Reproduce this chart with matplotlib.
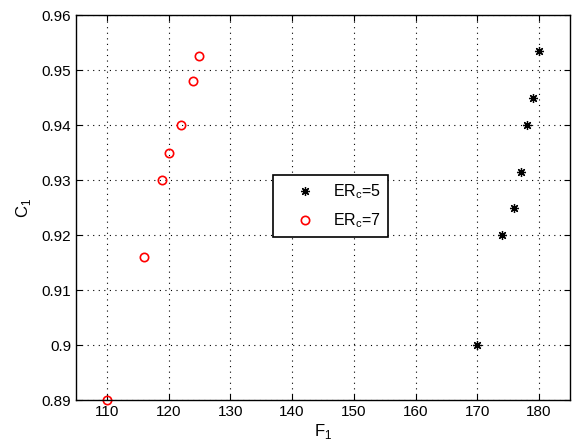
import matplotlib
matplotlib.use("Agg")
import matplotlib.pyplot as plt

plt.rcParams['font.family'] = ['Liberation Sans', 'DejaVu Sans']

f1_er5 = [170, 174, 176, 177, 178, 179, 180]
c1_er5 = [0.900, 0.920, 0.925, 0.9315, 0.940, 0.945, 0.9535]
f1_er7 = [110, 116, 119, 120, 122, 124, 125]
c1_er7 = [0.890, 0.916, 0.930, 0.935, 0.940, 0.948, 0.9525]
xticks = [110, 120, 130, 140, 150, 160, 170, 180]
yticks = [0.89, 0.90, 0.91, 0.92, 0.93, 0.94, 0.95, 0.96]
ytick_labels = ['0.89', '0.9', '0.91', '0.92', '0.93', '0.94', '0.95', '0.96']

fig = plt.figure(figsize=(5.73, 4.45), dpi=100)
ax = fig.add_axes([0.1326, 0.101, 0.862, 0.865])

ax.plot(f1_er5, c1_er5, linestyle='none', marker=(8, 2, 0), markersize=6.5,
        color='black', markeredgewidth=0.9, label='ER$_\\mathregular{c}$=5')
ax.plot(f1_er7, c1_er7, linestyle='none', marker='o', markersize=6,
        markerfacecolor='none', markeredgecolor='red', markeredgewidth=1.2,
        label='ER$_\\mathregular{c}$=7', clip_on=False)

ax.set_xlim(105, 185)
ax.set_ylim(0.89, 0.96)
ax.set_xticks(xticks)
ax.set_yticks(yticks)
ax.set_yticklabels(ytick_labels)
ax.tick_params(direction='in', length=4, labelsize=11, top=True, right=True,
               width=0.8)
ax.grid(True, linestyle=(0, (1, 4)), color='black', linewidth=0.8)
for s in ax.spines.values():
    s.set_linewidth(1.0)

ax.set_xlabel('F$_\\mathregular{1}$', fontsize=12, labelpad=2)
ax.set_ylabel('C$_\\mathregular{1}$', fontsize=12, labelpad=6)

leg = ax.legend(loc='upper left', bbox_to_anchor=(0.399, 0.584), fontsize=11.5,
                fancybox=False, framealpha=1, edgecolor='black',
                borderpad=0.45, handletextpad=0.2, labelspacing=0.65,
                handlelength=3.1, borderaxespad=0)
leg.get_frame().set_linewidth(1.2)

fig.savefig('out.png', dpi=100)
